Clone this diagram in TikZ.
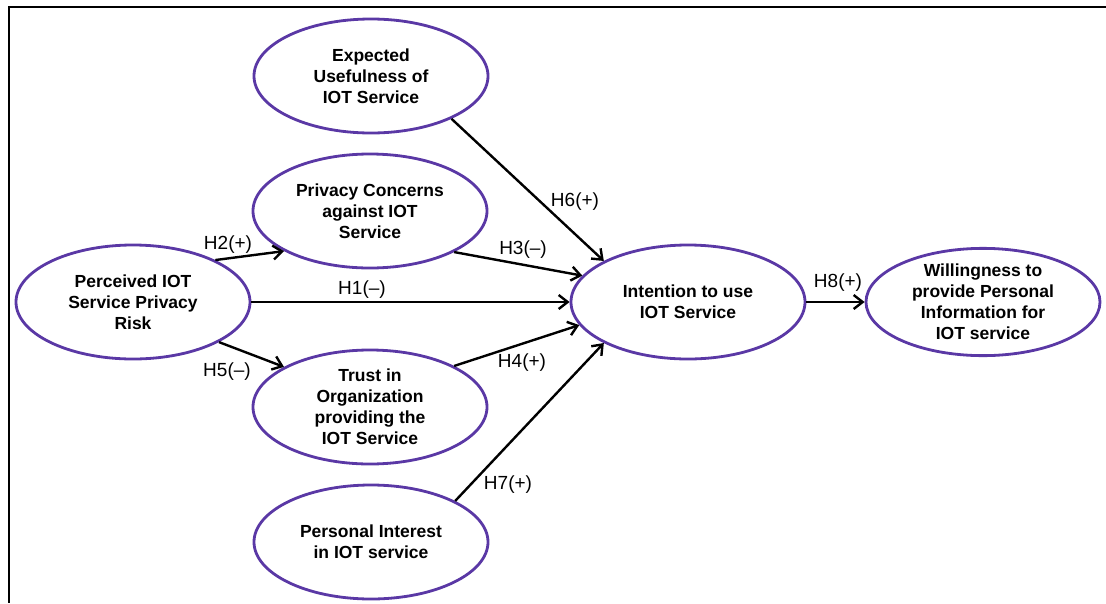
\documentclass[tikz,border=0pt]{standalone}
\usepackage{fontspec}
\setmainfont{Liberation Sans}
\usetikzlibrary{shapes.geometric,arrows.meta}
\definecolor{P}{RGB}{90,56,165}
\newcommand{\drawarrow}{\draw[line width=2.4pt,-{Straight Barb[length=9pt,width=14pt]}]}
\tikzset{
  construct/.style={ellipse,draw=P,line width=2.8pt,minimum width=234pt,minimum height=114pt,
    inner sep=0pt,align=center,font=\bfseries\fontsize{17.5}{21}\selectfont},
  hyp/.style={inner sep=0pt,font=\fontsize{19}{22}\selectfont}
}

\begin{document}
\begin{tikzpicture}[x=1pt,y=-1pt]
\useasboundingbox (0,0) rectangle (1106,603);
\draw[line width=2pt] (1106,6.7)--(9,6.7)--(9,603);

% constructs
\node[construct] (per) at (133,302) {Perceived IOT\\Service Privacy\\Risk};
\node[construct] (eu) at (371,76) {Expected\\Usefulness of\\IOT Service};
\node[construct] (pc) at (370,211) {Privacy Concerns\\against IOT\\Service};
\node[construct] (tr) at (370,407) {Trust in\\Organization\\providing the\\IOT Service};
\node[construct] (pi) at (371,542) {Personal Interest\\in IOT service};
\node[construct] (int) at (688,302) {Intention to use\\IOT Service};
\node[construct,minimum height=104pt] (will) at (983,302) {Willingness to\\provide Personal\\Information for\\IOT service};

% hypotheses
\drawarrow (per.east) -- (int.west);
\drawarrow (per.27) -- (pc.205);
\drawarrow (per.-25) -- (tr.155);
\drawarrow (pc.-26) -- (int.166);
\drawarrow (tr.26) -- (int.192);
\drawarrow (eu.-28) -- (int.154);
\drawarrow (pi.26) -- (int.206);
\drawarrow (int.east) -- (will.west);

\node[hyp] (h1) at (362,290) {H1(--)};
\node[hyp] (h2) at (228,245) {H2(+)};
\node[hyp] (h3) at (523,250) {H3(--)};
\node[hyp] (h4) at (522,363) {H4(+)};
\node[hyp] (h5) at (227,372) {H5(--)};
\node[hyp] (h6) at (575,202) {H6(+)};
\node[hyp] (h7) at (508,485) {H7(+)};
\node[hyp] (h8) at (838,283) {H8(+)};
\end{tikzpicture}
\end{document}
